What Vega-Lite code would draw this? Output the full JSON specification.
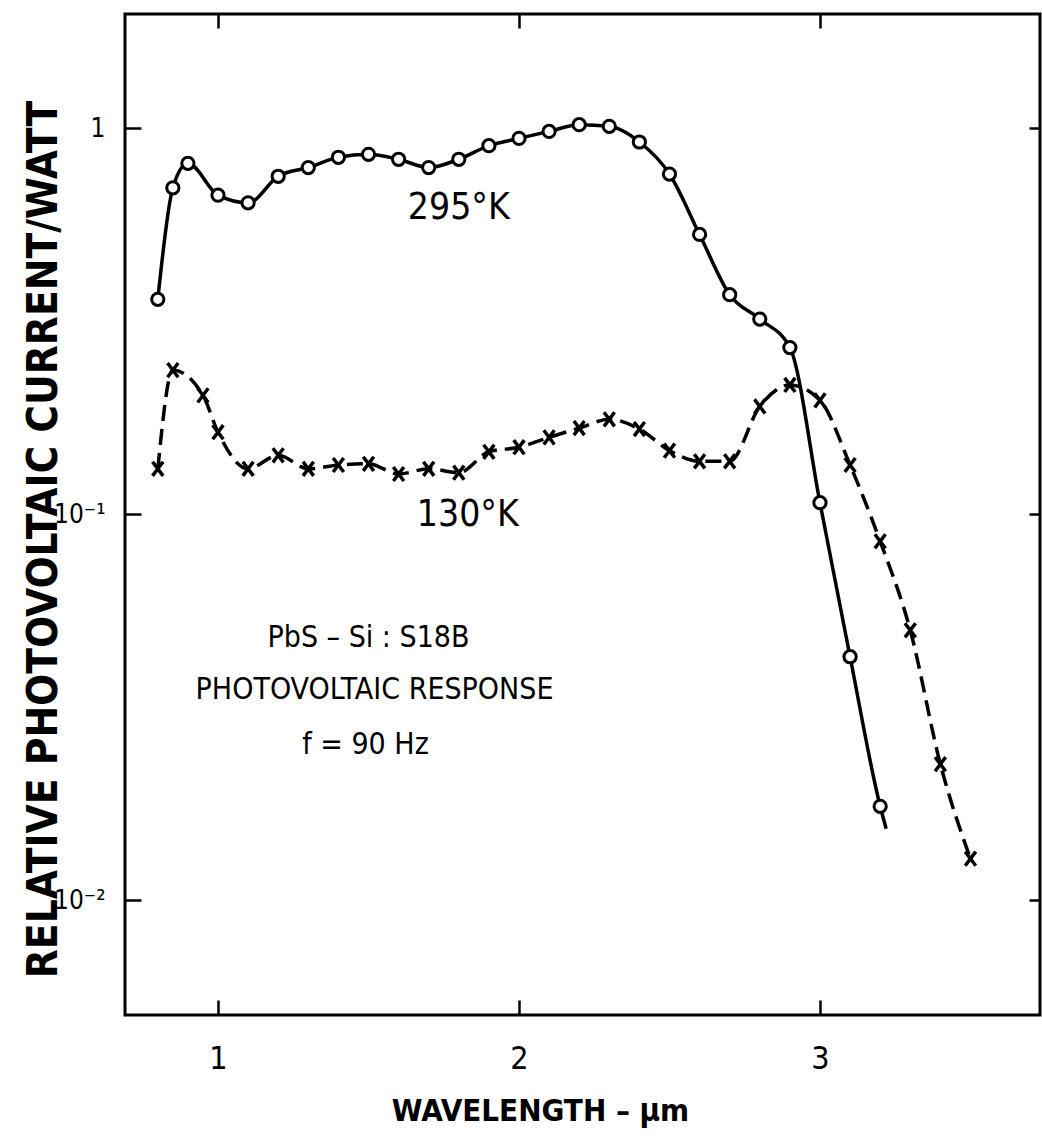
{
  "$schema": "https://vega.github.io/schema/vega-lite/v6.json",
  "autosize": "none",
  "padding": {"left": 125, "top": 14, "right": 2, "bottom": 123},
  "width": 915,
  "height": 1001,
  "background": "white",
  "config": {
    "view": {"stroke": "black", "strokeWidth": 3},
    "font": "DejaVu Sans Condensed, DejaVu Sans"
  },
  "datasets": {
    "curves": [
      {"series": "295°K", "wavelength": 0.8, "response": 0.36, "measured": true},
      {"series": "295°K", "wavelength": 0.85, "response": 0.70, "measured": true},
      {"series": "295°K", "wavelength": 0.9, "response": 0.81, "measured": true},
      {"series": "295°K", "wavelength": 1.0, "response": 0.67, "measured": true},
      {"series": "295°K", "wavelength": 1.1, "response": 0.64, "measured": true},
      {"series": "295°K", "wavelength": 1.2, "response": 0.75, "measured": true},
      {"series": "295°K", "wavelength": 1.3, "response": 0.79, "measured": true},
      {"series": "295°K", "wavelength": 1.4, "response": 0.84, "measured": true},
      {"series": "295°K", "wavelength": 1.5, "response": 0.855, "measured": true},
      {"series": "295°K", "wavelength": 1.6, "response": 0.83, "measured": true},
      {"series": "295°K", "wavelength": 1.7, "response": 0.79, "measured": true},
      {"series": "295°K", "wavelength": 1.8, "response": 0.83, "measured": true},
      {"series": "295°K", "wavelength": 1.9, "response": 0.90, "measured": true},
      {"series": "295°K", "wavelength": 2.0, "response": 0.94, "measured": true},
      {"series": "295°K", "wavelength": 2.1, "response": 0.98, "measured": true},
      {"series": "295°K", "wavelength": 2.2, "response": 1.02, "measured": true},
      {"series": "295°K", "wavelength": 2.3, "response": 1.01, "measured": true},
      {"series": "295°K", "wavelength": 2.4, "response": 0.92, "measured": true},
      {"series": "295°K", "wavelength": 2.5, "response": 0.76, "measured": true},
      {"series": "295°K", "wavelength": 2.6, "response": 0.53, "measured": true},
      {"series": "295°K", "wavelength": 2.7, "response": 0.37, "measured": true},
      {"series": "295°K", "wavelength": 2.8, "response": 0.32, "measured": true},
      {"series": "295°K", "wavelength": 2.9, "response": 0.27, "measured": true},
      {"series": "295°K", "wavelength": 3.0, "response": 0.107, "measured": true},
      {"series": "295°K", "wavelength": 3.1, "response": 0.0427, "measured": true},
      {"series": "295°K", "wavelength": 3.2, "response": 0.0175, "measured": true},
      {"series": "295°K", "wavelength": 3.22, "response": 0.0153, "measured": false},
      {"series": "130°K", "wavelength": 0.8, "response": 0.131, "measured": true},
      {"series": "130°K", "wavelength": 0.85, "response": 0.236, "measured": true},
      {"series": "130°K", "wavelength": 0.95, "response": 0.203, "measured": true},
      {"series": "130°K", "wavelength": 1.0, "response": 0.163, "measured": true},
      {"series": "130°K", "wavelength": 1.1, "response": 0.131, "measured": true},
      {"series": "130°K", "wavelength": 1.2, "response": 0.142, "measured": true},
      {"series": "130°K", "wavelength": 1.3, "response": 0.131, "measured": true},
      {"series": "130°K", "wavelength": 1.4, "response": 0.134, "measured": true},
      {"series": "130°K", "wavelength": 1.5, "response": 0.135, "measured": true},
      {"series": "130°K", "wavelength": 1.6, "response": 0.127, "measured": true},
      {"series": "130°K", "wavelength": 1.7, "response": 0.131, "measured": true},
      {"series": "130°K", "wavelength": 1.8, "response": 0.128, "measured": true},
      {"series": "130°K", "wavelength": 1.9, "response": 0.145, "measured": true},
      {"series": "130°K", "wavelength": 2.0, "response": 0.149, "measured": true},
      {"series": "130°K", "wavelength": 2.1, "response": 0.158, "measured": true},
      {"series": "130°K", "wavelength": 2.2, "response": 0.167, "measured": true},
      {"series": "130°K", "wavelength": 2.3, "response": 0.176, "measured": true},
      {"series": "130°K", "wavelength": 2.4, "response": 0.166, "measured": true},
      {"series": "130°K", "wavelength": 2.5, "response": 0.146, "measured": true},
      {"series": "130°K", "wavelength": 2.6, "response": 0.137, "measured": true},
      {"series": "130°K", "wavelength": 2.7, "response": 0.137, "measured": true},
      {"series": "130°K", "wavelength": 2.8, "response": 0.19, "measured": true},
      {"series": "130°K", "wavelength": 2.9, "response": 0.216, "measured": true},
      {"series": "130°K", "wavelength": 3.0, "response": 0.197, "measured": true},
      {"series": "130°K", "wavelength": 3.1, "response": 0.134, "measured": true},
      {"series": "130°K", "wavelength": 3.2, "response": 0.085, "measured": true},
      {"series": "130°K", "wavelength": 3.3, "response": 0.050, "measured": true},
      {"series": "130°K", "wavelength": 3.4, "response": 0.0225, "measured": true},
      {"series": "130°K", "wavelength": 3.5, "response": 0.0128, "measured": true}
    ],
    "temps": [
      {"text": "295°K", "wavelength": 1.80, "response": 0.62},
      {"text": "130°K", "wavelength": 1.83, "response": 0.0994}
    ],
    "notes": [
      {"text": "PbS – Si : S18B", "wavelength": 1.50, "response": 0.0477},
      {"text": "PHOTOVOLTAIC RESPONSE", "wavelength": 1.52, "response": 0.035},
      {"text": "f = 90 Hz", "wavelength": 1.49, "response": 0.0252}
    ]
  },
  "resolve": {"axis": {"x": "independent", "y": "independent"}},
  "layer": [
    {
      "data": {"name": "curves"},
      "transform": [{"filter": "datum.series == '295°K'"}],
      "mark": {"type": "line", "color": "black", "strokeWidth": 3.5, "interpolate": "monotone", "clip": true},
      "encoding": {
        "x": {"field": "wavelength", "type": "quantitative",
              "scale": {"domain": [0.691, 3.731], "nice": false, "zero": false},
              "axis": {"orient": "bottom", "values": [1, 2, 3], "tickSize": -15, "tickWidth": 2.5, "tickColor": "black",
                       "domain": false, "grid": false, "labelFontSize": 32, "labelColor": "black", "labelPadding": 43,
                       "labelFont": "DejaVu Sans Condensed, DejaVu Sans",
                       "title": "WAVELENGTH – μm", "titleFontSize": 31, "titleFontWeight": "bold", "titleColor": "black",
                       "titleFont": "DejaVu Sans Condensed, DejaVu Sans", "titlePadding": 22,
                       "titleX": 415, "titleAlign": "center"}},
        "y": {"field": "response", "type": "quantitative",
              "scale": {"type": "log", "domain": [0.00504, 1.974], "nice": false},
              "axis": {"orient": "left", "values": [1, 0.1, 0.01], "tickSize": -16, "tickWidth": 2.5, "tickColor": "black",
                       "domain": false, "grid": false, "labelFontSize": 26, "labelColor": "black", "labelPadding": 36,
                       "labelFont": "DejaVu Sans Condensed, DejaVu Sans",
                       "labelExpr": "datum.value >= 0.5 ? '1' : (datum.value >= 0.05 ? '10⁻¹' : '10⁻²')",
                       "title": "RELATIVE PHOTOVOLTAIC CURRENT/WATT", "titleFontSize": 42, "titleFontWeight": "bold",
                       "titleColor": "black", "titleFont": "DejaVu Sans Condensed, DejaVu Sans",
                       "titleX": -82, "titleY": 525, "titleBaseline": "middle", "titleAlign": "center", "titleAngle": -90}}
      }
    },
    {
      "data": {"name": "curves"},
      "transform": [{"filter": "datum.series == '295°K'"}],
      "mark": {"type": "line", "opacity": 0},
      "encoding": {
        "x": {"field": "wavelength", "type": "quantitative",
              "axis": {"orient": "top", "values": [1, 2, 3], "tickSize": -14, "tickWidth": 2.5, "tickColor": "black",
                       "domain": false, "grid": false, "labels": false, "title": null}},
        "y": {"field": "response", "type": "quantitative",
              "axis": {"orient": "right", "values": [1, 0.1, 0.01], "tickSize": -11, "tickWidth": 2.5, "tickColor": "black",
                       "domain": false, "grid": false, "labels": false, "title": null}}
      }
    },
    {
      "data": {"name": "curves"},
      "transform": [{"filter": "datum.series == '295°K' && datum.measured"}],
      "mark": {"type": "point", "shape": "circle", "filled": true, "fill": "white", "stroke": "black", "strokeWidth": 3, "size": 150, "opacity": 1},
      "encoding": {
        "x": {"field": "wavelength", "type": "quantitative", "axis": null},
        "y": {"field": "response", "type": "quantitative", "axis": null}
      }
    },
    {
      "data": {"name": "curves"},
      "transform": [{"filter": "datum.series == '130°K'"}],
      "mark": {"type": "line", "color": "black", "strokeWidth": 3.5, "interpolate": "monotone", "strokeDash": [16, 8]},
      "encoding": {
        "x": {"field": "wavelength", "type": "quantitative", "axis": null},
        "y": {"field": "response", "type": "quantitative", "axis": null}
      }
    },
    {
      "data": {"name": "curves"},
      "transform": [{"filter": "datum.series == '130°K' && datum.measured"}],
      "mark": {"type": "point", "shape": "M -0.75 -1 L 0.75 1 M 0.75 -1 L -0.75 1", "filled": false, "stroke": "black", "strokeWidth": 3.5, "size": 200, "opacity": 1},
      "encoding": {
        "x": {"field": "wavelength", "type": "quantitative", "axis": null},
        "y": {"field": "response", "type": "quantitative", "axis": null}
      }
    },
    {
      "data": {"name": "temps"},
      "mark": {"type": "text", "fontSize": 37, "color": "black", "align": "center", "baseline": "middle",
               "font": "DejaVu Sans Condensed, DejaVu Sans"},
      "encoding": {
        "x": {"field": "wavelength", "type": "quantitative", "axis": null},
        "y": {"field": "response", "type": "quantitative", "axis": null},
        "text": {"field": "text"}
      }
    },
    {
      "data": {"name": "notes"},
      "mark": {"type": "text", "fontSize": 30, "color": "black", "align": "center", "baseline": "middle",
               "font": "DejaVu Sans Condensed, DejaVu Sans"},
      "encoding": {
        "x": {"field": "wavelength", "type": "quantitative", "axis": null},
        "y": {"field": "response", "type": "quantitative", "axis": null},
        "text": {"field": "text"}
      }
    }
  ]
}
